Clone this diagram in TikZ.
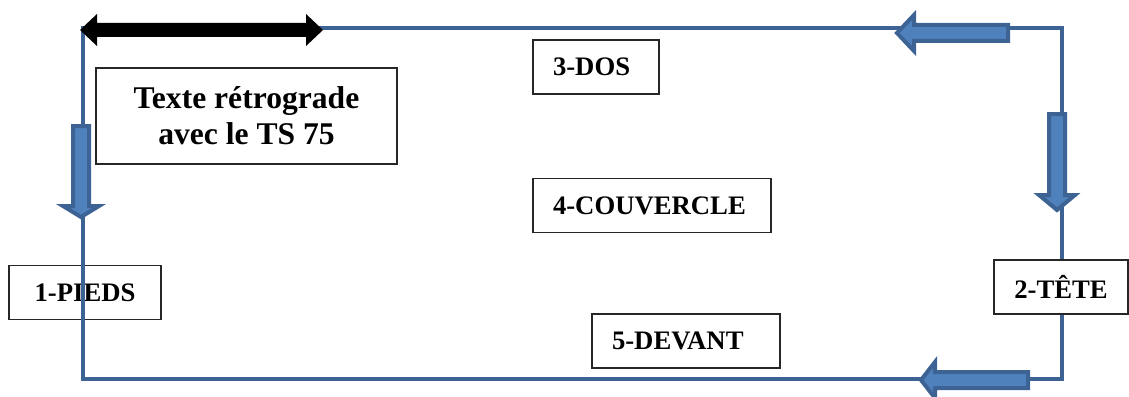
\documentclass[tikz,border=0pt]{standalone}
\usepackage{fontspec}
\setmainfont{Liberation Serif}
\definecolor{loopblue}{HTML}{3C6394}
\definecolor{arrowblue}{HTML}{4F81BD}
\begin{document}
\begin{tikzpicture}[x=1pt,y=-1pt,
  labelbox/.style={draw=black!85,line width=1.1pt,fill=white,minimum height=54pt,inner ysep=2pt,
    font=\fontsize{26.7}{32}\selectfont\bfseries},
  leftbox/.style={labelbox,inner xsep=20pt,align=left},
  blockarrow/.style={fill=arrowblue,draw=loopblue,line width=4pt,line join=miter},
  loopline/.style={draw=loopblue,line width=4pt,line join=miter}]
\useasboundingbox (0,0) rectangle (1129,396);
% box crossed by the line
\node[labelbox,minimum width=152pt] (pieds) at (85,292.5) {1-PIEDS};
% loop corners
\coordinate (tl) at (83,28);
\coordinate (tr) at (1062,28);
\coordinate (br) at (1062,379);
\coordinate (bl) at (83,379);
\draw[loopline] (tl) -- (tr) -- (br) -- (bl) -- cycle;
% black double arrow
\fill[black] (80,30) -- (97,14) -- (97,23) -- (306,23) -- (306,14) -- (323,30)
  -- (306,46) -- (306,37) -- (97,37) -- (97,46) -- cycle;
% left arrow (down)
\draw[blockarrow] (73,126) -- (89,126) -- (89,206) -- (99,206) -- (81,217)
  -- (63,206) -- (73,206) -- cycle;
% top right arrow (left)
\draw[blockarrow] (1008,25) -- (1008,41) -- (914,41) -- (914,51) -- (897,33)
  -- (914,15) -- (914,25) -- cycle;
% right arrow (down)
\draw[blockarrow] (1049,114) -- (1065,114) -- (1065,195) -- (1075,195) -- (1057,210)
  -- (1039,195) -- (1049,195) -- cycle;
% bottom arrow (left)
\draw[blockarrow] (1028,372) -- (1028,388) -- (935,388) -- (935,398) -- (921,380)
  -- (935,362) -- (935,372) -- cycle;
% boxes
\node[draw=black!85,line width=1.1pt,fill=white,minimum width=301pt,minimum height=96pt,align=center,
  font=\fontsize{31.6}{36}\selectfont\bfseries] (texte) at (246.5,116) {Texte rétrograde\\avec le TS 75};
\node[leftbox,minimum width=126pt,text width=86pt] (dos) at (596,67) {3-DOS};
\node[leftbox,minimum width=238pt,text width=198pt] (couv) at (652,205.5) {4-COUVERCLE};
\node[leftbox,minimum width=188pt,text width=148pt] (devant) at (686,341) {5-DEVANT};
\node[labelbox,minimum width=134pt] (tete) at (1061,287) {2-TÊTE};
\end{tikzpicture}
\end{document}
